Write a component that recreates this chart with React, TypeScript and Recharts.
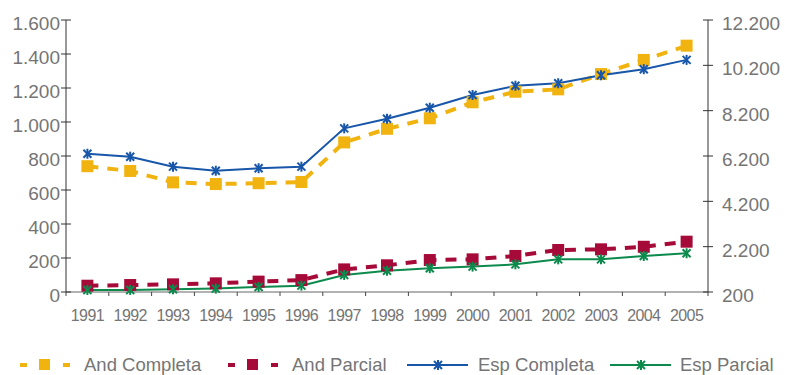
import { Legend, Line, LineChart, XAxis, YAxis } from "recharts";

const years = ["1991", "1992", "1993", "1994", "1995", "1996", "1997", "1998", "1999", "2000", "2001", "2002", "2003", "2004", "2005"];

// left axis (Andalucía)
const andCompleta = [740, 712, 645, 635, 640, 647, 880, 960, 1022, 1116, 1178, 1192, 1282, 1365, 1449];
const andParcial = [37, 41, 45, 51, 61, 70, 133, 157, 188, 192, 212, 247, 251, 266, 296];

// right axis (España)
const espCompleta = [6300, 6170, 5730, 5550, 5660, 5730, 7420, 7840, 8330, 8890, 9300, 9410, 9760, 10030, 10440];
const espParcial = [290, 290, 320, 350, 420, 480, 950, 1140, 1250, 1320, 1420, 1640, 1640, 1790, 1910];

const leftTicks = [0, 200, 400, 600, 800, 1000, 1200, 1400, 1600];
const rightTicks = [200, 2200, 4200, 6200, 8200, 10200, 12200];

const YELLOW = "#f1b30f";
const RED = "#a60a38";
const BLUE = "#1756a9";
const GREEN = "#0b8a4c";
const TEXT = "#757575";
const FONT = "'Liberation Sans', Arial, sans-serif";

const data = years.map((year, i) => ({
  year,
  x: i + 0.5,
  andCompleta: andCompleta[i],
  andParcial: andParcial[i],
  espCompleta: espCompleta[i],
  espParcial: espParcial[i],
}));

const boundaryTicks = years.map((_, i) => i).concat(years.length);
const labelTicks = years.map((_, i) => i + 0.5);

const fmt = (v: number) => String(v).replace(/\B(?=(\d{3})+(?!\d))/g, ".");

const squareDot = (color: string) => (props: any) => {
  const { cx, cy, index } = props;
  return <rect key={`sq-${color}-${index}`} x={cx - 6} y={cy - 6} width={12} height={12} fill={color} />;
};

const starDot = (color: string) => (props: any) => {
  const { cx, cy, index } = props;
  const r = 4;
  return (
    <g key={`st-${color}-${index}`} stroke={color} strokeWidth={2}>
      <line x1={cx - r} y1={cy - r} x2={cx + r} y2={cy + r} />
      <line x1={cx - r} y1={cy + r} x2={cx + r} y2={cy - r} />
      <line x1={cx} y1={cy - r - 1} x2={cx} y2={cy + r + 1} />
    </g>
  );
};

// tickSize 5; left tickMargin 1, right tickMargin 9
const yTick = (side: "left" | "right") => (props: any) => {
  const { x, y, payload } = props;
  const axisX = side === "left" ? x + 6 : x - 14;
  return (
    <g>
      <line x1={axisX - 5} y1={y} x2={axisX + 5} y2={y} stroke="#333" strokeWidth={1} />
      <text x={x} y={y + 10} textAnchor={side === "left" ? "end" : "start"} fill={TEXT} fontSize={19} fontFamily={FONT}>
        {fmt(payload.value)}
      </text>
    </g>
  );
};

const legendItems = [
  { name: "And Completa", color: YELLOW, kind: "square", left: 20, textLeft: 84 },
  { name: "And Parcial", color: RED, kind: "square", left: 228, textLeft: 292 },
  { name: "Esp Completa", color: BLUE, kind: "star", left: 407, textLeft: 478 },
  { name: "Esp Parcial", color: GREEN, kind: "star", left: 610, textLeft: 680 },
];

const renderLegend = () => (
  <div style={{ position: "relative", width: 785, height: 34 }}>
    {legendItems.map((it) => (
      <div key={it.name}>
        <svg style={{ position: "absolute", left: it.left, top: 14 }} width={62} height={20}>
          {it.kind === "square" ? (
            <g fill={it.color}>
              <rect x={0} y={8} width={7} height={4} />
              <rect x={19} y={4} width={11} height={11} />
              <rect x={43} y={8} width={7} height={4} />
            </g>
          ) : (
            <g stroke={it.color} strokeWidth={2}>
              <line x1={0} y1={10} x2={61} y2={10} />
              <line x1={27} y1={6} x2={35} y2={14} />
              <line x1={27} y1={14} x2={35} y2={6} />
              <line x1={31} y1={5} x2={31} y2={15} />
            </g>
          )}
        </svg>
        <span
          style={{
            position: "absolute",
            left: it.textLeft,
            top: 14,
            lineHeight: "20px",
            fontSize: 18.5,
            fontFamily: FONT,
            color: TEXT,
            whiteSpace: "nowrap",
          }}
        >
          {it.name}
        </span>
      </div>
    ))}
  </div>
);

export default function App() {
  return (
    <div style={{ position: "absolute", left: 0, top: 0, width: 785, height: 375, background: "#fff" }}>
      <LineChart width={785} height={375} data={data} margin={{ top: 20, right: 0, bottom: 0, left: 0 }}>
        <XAxis
          xAxisId="grid"
          dataKey="x"
          type="number"
          domain={[0, years.length]}
          ticks={boundaryTicks}
          tickFormatter={() => ""}
          height={5}
          tickSize={4}
          stroke="#555"
          axisLine={{ stroke: "#666" }}
          tickLine={{ stroke: "#444" }}
        />
        <XAxis
          xAxisId="labels"
          dataKey="x"
          type="number"
          domain={[0, years.length]}
          ticks={labelTicks}
          tickFormatter={(v: number) => years[Math.floor(v)]}
          height={44}
          axisLine={false}
          tickLine={false}
          tickMargin={7}
          tick={{ fill: TEXT, fontSize: 16, fontFamily: FONT, letterSpacing: -0.6 }}
          interval={0}
        />
        <YAxis
          yAxisId="left"
          orientation="left"
          width={66}
          domain={[0, 1600]}
          ticks={leftTicks}
          interval={0}
          tickSize={5}
          tickMargin={1}
          tickLine={false}
          axisLine={{ stroke: "#333" }}
          tick={yTick("left")}
        />
        <YAxis
          yAxisId="right"
          orientation="right"
          width={77}
          domain={[200, 12200]}
          ticks={rightTicks}
          interval={0}
          tickSize={5}
          tickMargin={9}
          tickLine={false}
          axisLine={{ stroke: "#333" }}
          tick={yTick("right")}
        />
        <Legend verticalAlign="bottom" height={34} content={renderLegend} wrapperStyle={{ left: 0, width: 785 }} />
        <Line
          xAxisId="grid"
          yAxisId="left"
          dataKey="andCompleta"
          name="And Completa"
          stroke={YELLOW}
          strokeWidth={4}
          strokeDasharray="11 9"
          dot={squareDot(YELLOW)}
          isAnimationActive={false}
        />
        <Line
          xAxisId="grid"
          yAxisId="left"
          dataKey="andParcial"
          name="And Parcial"
          stroke={RED}
          strokeWidth={4}
          strokeDasharray="11 9"
          dot={squareDot(RED)}
          isAnimationActive={false}
        />
        <Line
          xAxisId="grid"
          yAxisId="right"
          dataKey="espCompleta"
          name="Esp Completa"
          stroke={BLUE}
          strokeWidth={2}
          dot={starDot(BLUE)}
          isAnimationActive={false}
        />
        <Line
          xAxisId="grid"
          yAxisId="right"
          dataKey="espParcial"
          name="Esp Parcial"
          stroke={GREEN}
          strokeWidth={2}
          dot={starDot(GREEN)}
          isAnimationActive={false}
        />
      </LineChart>
    </div>
  );
}
